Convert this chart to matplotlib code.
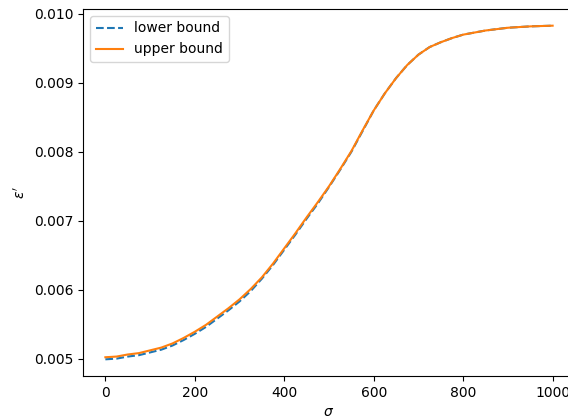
import matplotlib
matplotlib.use("Agg")
import matplotlib.pyplot as plt

sigma = [0, 25, 50, 75, 100, 125, 150, 175, 200, 225, 250, 275, 300, 325, 350, 375,
         400, 425, 450, 475, 500, 525, 550, 575, 600, 625, 650, 675, 700, 725, 750,
         775, 800, 850, 900, 950, 1000]
upper = [0.00502, 0.00503, 0.00506, 0.00508, 0.00512, 0.00516, 0.00522, 0.00530,
         0.00539, 0.00549, 0.00561, 0.00573, 0.00586, 0.00601, 0.00618, 0.00638,
         0.00660, 0.00682, 0.00705, 0.00727, 0.00750, 0.00775, 0.00801, 0.00831,
         0.00860, 0.00885, 0.00907, 0.00926, 0.00941, 0.00952, 0.00959,
         0.00965, 0.00970, 0.00976, 0.00980, 0.00982, 0.00983]
lower = [0.00499, 0.00500, 0.00503, 0.00505, 0.00509, 0.00513, 0.00519, 0.00527,
         0.00536, 0.00546, 0.00558, 0.00570, 0.00583, 0.00598, 0.00616, 0.00636,
         0.00658, 0.00680, 0.00703, 0.00725, 0.00749, 0.00774, 0.00800, 0.00830,
         0.00860, 0.00885, 0.00907, 0.00926, 0.00941, 0.00952, 0.00959,
         0.00965, 0.00970, 0.00976, 0.00980, 0.00982, 0.00983]

fig = plt.figure(figsize=(5.68, 4.16), dpi=100)
ax = fig.add_axes([83/568, 40/416, 492/568, 367/416])
ax.plot(sigma, lower, "--", color="C0", label="lower bound")
ax.plot(sigma, upper, "-", color="C1", label="upper bound")
ax.set_xlabel(r"$\sigma$")
ax.set_ylabel(r"$\epsilon'$")
ax.legend(loc="upper left")
fig.savefig("out.png", dpi=100)
